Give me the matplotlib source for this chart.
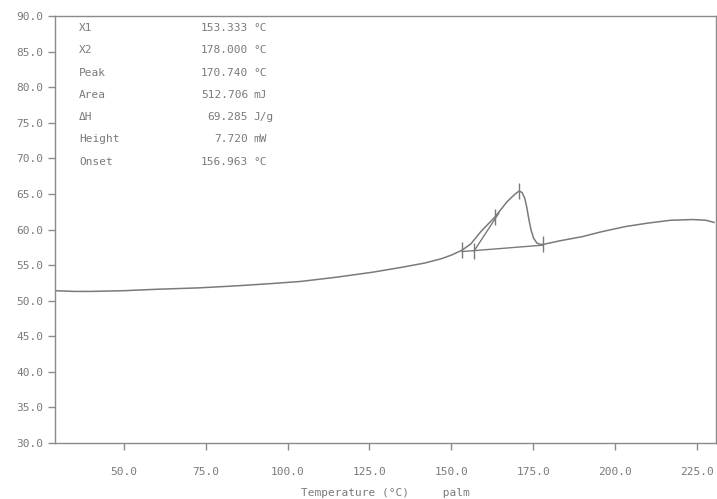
import numpy as np
import matplotlib.pyplot as plt

# curva DSC (temperatura en °C, senal)
temp = [29, 35, 40, 50, 60, 73, 85, 95, 104, 115, 126, 135, 142, 147, 150,
        153.3, 156, 159, 163.4, 167, 169.5, 170.7, 171.6, 172.4, 173.0,
        173.6, 174.3, 175.1, 176.1, 177.2, 178, 183, 190, 196, 203, 210,
        217, 223.6, 227.7, 230.2]
senal = [51.4, 51.3, 51.3, 51.4, 51.6, 51.8, 52.1, 52.4, 52.7, 53.3, 54.0,
         54.7, 55.3, 55.9, 56.4, 57.1, 58.0, 59.7, 61.8, 63.9, 65.0, 65.4,
         65.2, 64.4, 63.2, 61.6, 60.0, 58.8, 58.1, 57.9, 57.9, 58.4, 59.0,
         59.7, 60.4, 60.9, 61.3, 61.4, 61.3, 61.0]

# linea base entre X1 y X2, y tangente del onset
base_x = [153.3, 178.0]
base_y = [56.9, 57.8]
tang_x = [156.96, 164.5]
tang_y = [57.0, 62.3]

# marcas verticales sobre la curva
marcas_x = [153.3, 156.96, 163.4, 170.74, 178.0]
marcas_y = [57.1, 57.0, 61.8, 65.4, 57.9]

etiquetas = ["X1", "X2", "Peak", "Area", "ΔH", "Height", "Onset"]
valores = ["153.333", "178.000", "170.740", "512.706", "69.285", "7.720", "156.963"]
unidades = ["°C", "°C", "°C", "mJ", "J/g", "mW", "°C"]

gris = "#7a7a7a"
fuente = "DejaVu Sans Mono"

fig = plt.figure(figsize=(7.17, 4.99), dpi=100)
ax = fig.add_axes([55/717, 56/499, 661/717, 427/499])

ax.plot(temp, senal, color=gris, lw=1.1)
ax.plot(base_x, base_y, color=gris, lw=1.0)
ax.plot(tang_x, tang_y, color=gris, lw=1.0)
ax.plot(marcas_x, marcas_y, ls="none", marker="|", ms=11, mew=1.0, color=gris)

ax.set_xlim(29, 230.8)
ax.set_ylim(30, 90)
ax.set_xticks(np.arange(50, 226, 25))
ax.set_yticks(np.arange(30, 91, 5))
ax.set_xticklabels(["%.1f" % v for v in np.arange(50, 226, 25)])
ax.set_yticklabels(["%.1f" % v for v in np.arange(30, 91, 5)])

for s in ax.spines.values():
    s.set_color("#8a8a8a")
    s.set_linewidth(1.0)
ax.tick_params(colors="#8a8a8a", labelcolor=gris, length=5, width=1.0)
ax.tick_params(axis="x", pad=12)
for lab in ax.get_xticklabels() + ax.get_yticklabels():
    lab.set_fontfamily(fuente)
    lab.set_fontsize(8)

ax.set_xlabel("Temperature (°C)     palm", fontfamily=fuente, fontsize=8,
              color=gris, labelpad=8)

# cuadro de resultados
for i in range(len(etiquetas)):
    y = 28 + i * 22.3
    fig.text(79/717, 1 - y/499, etiquetas[i], fontfamily=fuente, fontsize=8,
             color=gris, va="center", ha="left")
    fig.text(248/717, 1 - y/499, valores[i], fontfamily=fuente, fontsize=8,
             color=gris, va="center", ha="right")
    fig.text(253/717, 1 - y/499, unidades[i], fontfamily=fuente, fontsize=8,
             color=gris, va="center", ha="left")

fig.savefig("out.png", dpi=100)
